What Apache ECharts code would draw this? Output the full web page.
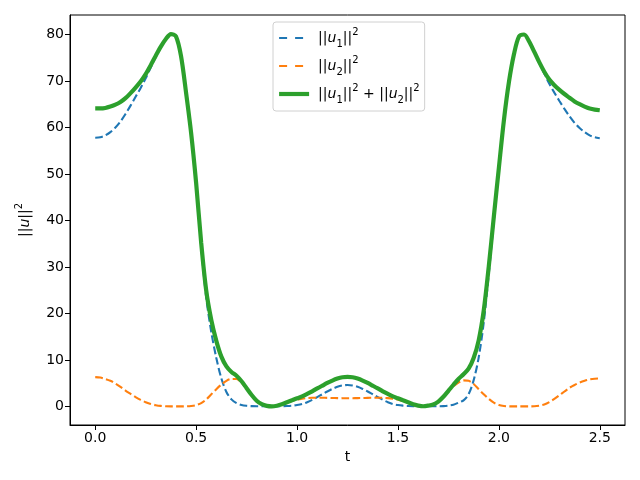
<!DOCTYPE html>
<html><head><meta charset="utf-8">
<script src="https://cdn.jsdelivr.net/npm/echarts@6/dist/echarts.min.js"></script>
<style>html,body{margin:0;padding:0;background:#fff}#c{width:640px;height:480px}</style>
</head><body><div id="c"></div>
<script>
// sampling step of t (0 .. 2.5)
const tStep = 0.025;
// ||u1||^2
const u1 = [57.8, 57.9, 58.3, 59.0, 60.0, 61.3, 62.9, 64.7, 66.6, 68.5, 70.6, 72.9, 75.2, 77.3, 79.0, 80.1, 79.6, 75.4, 67.5, 58.8,
  47.8, 34.5, 23.4, 16.0, 10.4, 6.0, 3.1, 1.5, 0.7, 0.3, 0.12, 0.05, 0.02, 0.01, 0.01, 0.01, 0.02, 0.04, 0.08, 0.15,
  0.28, 0.5, 0.9, 1.4, 2.0, 2.6, 3.2, 3.75, 4.2, 4.5, 4.6,
  4.5, 4.2, 3.75, 3.2, 2.6, 2.0, 1.4, 0.9, 0.5, 0.28, 0.15, 0.08, 0.04, 0.02, 0.01, 0.01, 0.01, 0.03, 0.06, 0.15,
  0.35, 0.8, 1.3, 2.6, 5.6, 10.5, 18.0, 28.5, 40.0, 51.0, 61.5, 69.8, 75.8, 79.6, 80.0, 78.5, 76.3, 73.9, 71.6, 69.4,
  67.5, 65.7, 64.0, 62.4, 61.0, 59.9, 59.0, 58.3, 57.9, 57.7];
// ||u2||^2
const u2 = [6.3, 6.2, 5.9, 5.5, 4.9, 4.2, 3.4, 2.7, 2.0, 1.4, 0.9, 0.5, 0.25, 0.1, 0.03, 0.0, 0.0, 0.0, 0.02, 0.08,
  0.25, 0.7, 1.5, 2.6, 3.7, 4.7, 5.5, 5.9, 5.9, 5.1, 3.8, 2.4, 1.2, 0.45, 0.1, 0.0, 0.12, 0.4, 0.8, 1.15,
  1.45, 1.65, 1.78, 1.84, 1.86, 1.85, 1.83, 1.8, 1.78, 1.76, 1.75,
  1.76, 1.78, 1.8, 1.83, 1.85, 1.86, 1.84, 1.78, 1.65, 1.45, 1.15, 0.8, 0.4, 0.15, 0.01, 0.15, 0.4, 1.0, 2.0, 3.2,
  4.3, 5.1, 5.6, 5.5, 4.8, 3.7, 2.6, 1.6, 0.8, 0.3, 0.08, 0.01, 0.0, 0.0, 0.0, 0.0, 0.03, 0.15, 0.4, 0.9,
  1.6, 2.4, 3.2, 4.0, 4.6, 5.1, 5.5, 5.8, 5.95, 6.0];
const xTicks = [0, 0.5, 1, 1.5, 2, 2.5];
const yTicks = [0, 10, 20, 30, 40, 50, 60, 70, 80];
const seriesNames = ['u1', 'u2', 'sum'];

const t = u1.map((_, i) => +(i * tStep).toFixed(3));
const total = u1.map((v, i) => +(v + u2[i]).toFixed(3));

const font = 'DejaVu Sans';
const rich = {
  g: { width: 4, lineHeight: 22 },
  n: { fontFamily: font, fontSize: 14, color: '#000', lineHeight: 22 },
  i: { fontFamily: font, fontSize: 14, fontStyle: 'italic', color: '#000', lineHeight: 22 },
  sub: { fontFamily: font, fontSize: 10, color: '#000', lineHeight: 12, verticalAlign: 'bottom' },
  sup: { fontFamily: font, fontSize: 10, color: '#000', lineHeight: 12, verticalAlign: 'top' }
};
const labels = {
  u1: '{n|||}{i|u}{sub|1}{n|||}{sup|2}',
  u2: '{n|||}{i|u}{sub|2}{n|||}{sup|2}',
  sum: '{n|||}{i|u}{sub|1}{n|||}{sup|2}{n| + ||}{i|u}{sub|2}{n|||}{sup|2}'
};
const colors = ['#1f77b4', '#ff7f0e', '#2ca02c'];
const lineStyles = [
  { width: 2.1, type: [7.7, 3.3] },
  { width: 2.1, type: [7.7, 3.3] },
  { width: 4.2, type: 'solid' }
];
const data = [u1, u2, total];

const chart = echarts.init(document.getElementById('c'), null, { renderer: 'canvas' });
chart.setOption({
  animation: false,
  backgroundColor: '#fff',
  grid: { left: 70, right: 15, top: 15, bottom: 55, show: true, borderColor: '#000', borderWidth: 1, backgroundColor: 'transparent' },
  legend: {
    orient: 'vertical', left: 273, top: 22,
    itemWidth: 30, itemHeight: 14, itemGap: 6,
    padding: [5, 5, 6, 4],
    backgroundColor: 'rgba(255,255,255,0.8)', borderColor: '#d0d0d0', borderWidth: 1, borderRadius: 3,
    itemStyle: { opacity: 0 },
    data: seriesNames.map((nm, k) => ({
      name: nm,
      lineStyle: { width: lineStyles[k].width, type: k < 2 ? [8, 8] : 'solid', color: colors[k] }
    })),
    formatter: name => '{g|}' + labels[name],
    textStyle: { rich: rich, fontFamily: font, fontSize: 14 }
  },
  xAxis: {
    type: 'value', min: -0.125, max: 2.625,
    name: 't', nameLocation: 'middle', nameGap: 25,
    nameTextStyle: { fontFamily: font, fontSize: 14, color: '#000' },
    axisLine: { show: true, onZero: false, lineStyle: { color: '#000', width: 1 } },
    axisTick: { show: true, inside: false, length: 5, lineStyle: { color: '#000' }, customValues: xTicks },
    axisLabel: { customValues: xTicks, formatter: v => v.toFixed(1), fontFamily: font, fontSize: 14, color: '#000', margin: 6 },
    splitLine: { show: false }
  },
  yAxis: {
    type: 'value', min: -4.01, max: 84.2,
    name: labels.u1.replace('{sub|1}', ''), nameLocation: 'middle', nameRotate: 90, nameGap: 34,
    nameTextStyle: { rich: rich, fontFamily: font, fontSize: 14, color: '#000' },
    axisLine: { show: true, onZero: false, lineStyle: { color: '#000', width: 1 } },
    axisTick: { show: true, inside: false, length: 5, lineStyle: { color: '#000' }, customValues: yTicks },
    axisLabel: { customValues: yTicks, fontFamily: font, fontSize: 14, color: '#000', margin: 6 },
    splitLine: { show: false }
  },
  series: seriesNames.map((nm, k) => ({
    name: nm, type: 'line',
    data: t.map((x, i) => [x, data[k][i]]),
    showSymbol: false, symbol: 'none',
    smooth: 0.3,
    color: colors[k],
    lineStyle: Object.assign({ color: colors[k] }, lineStyles[k]),
    z: 2 + k
  }))
});
</script>
</body></html>
